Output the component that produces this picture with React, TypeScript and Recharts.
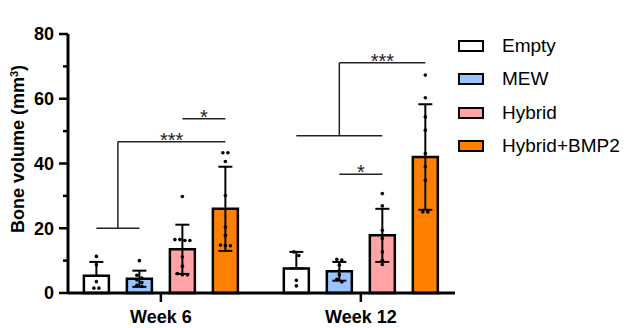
import React from 'react';
import {
  ComposedChart,
  Bar,
  Cell,
  ErrorBar,
  Scatter,
  XAxis,
  YAxis,
  ReferenceLine,
  Legend
} from 'recharts';

const weeks = ['Week 6', 'Week 12'];
const groups = ['Empty', 'MEW', 'Hybrid', 'Hybrid+BMP2'];
const groupColors = ['#ffffff', '#99c4ff', '#ffa3a6', '#ff8000'];

const meanWeek6 = [5.3, 4.4, 13.5, 26.0];
const meanWeek12 = [7.6, 6.7, 17.8, 42.0];
const sdWeek6 = [4.3, 2.5, 7.6, 13.0];
const sdWeek12 = [5.1, 2.9, 8.2, 16.3];
const lowerWhisker = [false, true, true, true];

const pointsWeek6 = [
  [11.3, 8.7, 3.5, 1.5, 1.5],
  [10.0, 5.5, 4.6, 4.0, 3.2, 2.4, 2.0],
  [29.8, 16.5, 16.2, 16.2, 16.5, 11.2, 8.3, 6.0, 5.6, 5.6],
  [43.3, 43.3, 40.6, 30.1, 20.4, 17.8, 14.8, 14.7, 14.6]
];
const pointsWeek12 = [
  [12.7, 11.6, 3.9, 2.2],
  [10.4, 10.2, 8.6, 6.8, 5.6, 4.2, 3.4],
  [30.7, 26.9, 19.4, 16.8, 12.7, 10.1, 8.8],
  [67.3, 60.3, 54.4, 50.3, 43.1, 39.0, 34.8, 25.0, 25.0]
];

const yTicks = [0, 10, 20, 30, 40, 50, 60, 70, 80];

// comparisons: from = bars joined by the lower bracket, to = compared bar
const brackets = [
  { week: 0, from: [0, 1], baseLevel: 20, to: 3, level: 46.7, stars: '***' },
  { week: 0, from: [2, 2], baseLevel: 53.8, to: 3, level: 53.8, stars: '*' },
  { week: 1, from: [0, 2], baseLevel: 48.6, to: 3, level: 71.1, stars: '***' },
  { week: 1, from: [1, 1], baseLevel: 36.7, to: 2, level: 36.7, stars: '*' }
];

const means = [meanWeek6, meanWeek12];
const sds = [sdWeek6, sdWeek12];
const points = [pointsWeek6, pointsWeek12];

const GROUP_STEP = 4.65;
const X_DOMAIN: [number, number] = [-0.66, 8.34];
const FONT = 'Liberation Sans, Arial, sans-serif';
const pos = (w: number, g: number) => w * GROUP_STEP + g;

const barData = weeks.flatMap((_, w) =>
  groups.map((name, g) => ({
    pos: pos(w, g),
    name,
    mean: means[w][g],
    err: [lowerWhisker[g] ? sds[w][g] : 0, sds[w][g]]
  }))
);

// spread dots with nearly equal values side by side
const spread = (values: number[]) => {
  const sorted = [...values].sort((a, b) => b - a);
  const out: { y: number; dx: number }[] = [];
  let i = 0;
  while (i < sorted.length) {
    let j = i;
    while (j + 1 < sorted.length && sorted[i] - sorted[j + 1] < 1.2) j++;
    const n = j - i + 1;
    for (let k = 0; k < n; k++) out.push({ y: sorted[i + k], dx: (k - (n - 1) / 2) * 5 });
    i = j + 1;
  }
  return out;
};

const dotData = weeks.flatMap((_, w) =>
  groups.flatMap((__, g) => spread(points[w][g]).map(p => ({ pos: pos(w, g), y: p.y, dx: p.dx })))
);

const YTick = ({ x, y, payload }: any) => {
  const v = payload.value;
  const major = v % 20 === 0;
  return (
    <g>
      <line x1={x - (major ? 9 : 5)} x2={x} y1={y} y2={y} stroke="#000" strokeWidth={2.5} />
      {major && (
        <text x={x - 14} y={y} dy="0.36em" textAnchor="end" fontWeight="bold" fontSize={18} fill="#000">
          {v}
        </text>
      )}
    </g>
  );
};

const XTick = ({ x, y, index }: any) => (
  <g>
    <line x1={x} x2={x} y1={y} y2={y + 9} stroke="#000" strokeWidth={2.5} />
    <text x={x} y={y + 30} textAnchor="middle" fontWeight="bold" fontSize={18} fill="#000">
      {weeks[index]}
    </text>
  </g>
);

const YLabel = () => (
  <text
    x={16}
    y={141}
    transform="rotate(-90, 16, 141)"
    textAnchor="middle"
    fontWeight="bold"
    fontSize={18}
    fill="#000"
  >
    Bone volume (mm<tspan dy={-6} fontSize={11}>3</tspan>
    <tspan dy={6}>)</tspan>
  </text>
);

const Dot = ({ cx, cy, payload }: any) => (
  <circle cx={cx + payload.dx} cy={cy} r={1.8} fill="#000" />
);

const starLabel = (stars: string) => (props: any) => {
  const vb = props.viewBox || {};
  return (
    <text x={vb.x + (vb.width || 0) / 2} y={vb.y + 5} textAnchor="middle" fontSize={20} fill="#222">
      {stars}
    </text>
  );
};

const LegendBox = () => (
  <div style={{ width: 170, fontFamily: FONT, fontSize: 19, color: '#000' }}>
    {groups.map((name, g) => (
      <div key={name} style={{ height: 33.5, display: 'flex', alignItems: 'center' }}>
        <div
          style={{
            marginLeft: 3,
            width: 26,
            height: 12,
            boxSizing: 'border-box',
            border: '2.5px solid #000',
            background: groupColors[g]
          }}
        />
        <span style={{ marginLeft: 18 }}>{name}</span>
      </div>
    ))}
  </div>
);

const bracketLines = brackets.flatMap((b, i) => {
  const a = pos(b.week, b.from[0]);
  const c = pos(b.week, b.from[1]);
  const mid = (a + c) / 2;
  const t = pos(b.week, b.to);
  const lines = [];
  if (a !== c) {
    lines.push(
      <ReferenceLine
        key={`base${i}`}
        segment={[{ x: a, y: b.baseLevel }, { x: c, y: b.baseLevel }]}
        stroke="#222"
        strokeWidth={1.5}
        ifOverflow="visible"
      />,
      <ReferenceLine
        key={`stem${i}`}
        segment={[{ x: mid, y: b.baseLevel }, { x: mid, y: b.level }]}
        stroke="#222"
        strokeWidth={1.5}
        ifOverflow="visible"
      />
    );
  }
  lines.push(
    <ReferenceLine
      key={`top${i}`}
      segment={[{ x: mid, y: b.level }, { x: t, y: b.level }]}
      stroke="#222"
      strokeWidth={1.5}
      ifOverflow="visible"
      label={starLabel(b.stars)}
    />
  );
  return lines;
});

export default function App() {
  return (
    <div style={{ position: 'relative', width: 627, height: 320 }}>
      <ComposedChart
        width={627}
        height={320}
        data={barData}
        margin={{ top: 26, right: 10, bottom: 0, left: 0 }}
        style={{ fontFamily: FONT }}
      >
        <XAxis
          dataKey="pos"
          type="number"
          domain={X_DOMAIN}
          allowDataOverflow
          ticks={weeks.map((_, w) => pos(w, 1.5))}
          interval={0}
          tick={<XTick />}
          tickSize={0}
          tickMargin={0}
          height={35}
          axisLine={{ stroke: '#000', strokeWidth: 3 }}
          tickLine={false}
        />
        <XAxis xAxisId="dots" dataKey="pos" type="number" domain={X_DOMAIN} allowDataOverflow hide />
        <YAxis
          type="number"
          domain={[0, 80]}
          ticks={yTicks}
          interval={0}
          width={60}
          tick={<YTick />}
          tickSize={0}
          tickMargin={0}
          axisLine={{ stroke: '#000', strokeWidth: 3 }}
          tickLine={false}
          label={<YLabel />}
        />
        <Legend
          layout="vertical"
          align="right"
          verticalAlign="top"
          wrapperStyle={{ top: 21 }}
          content={() => <LegendBox />}
        />
        <Bar dataKey="mean" barSize={25} stroke="#000" strokeWidth={2.5} isAnimationActive={false}>
          {barData.map((d, i) => (
            <Cell key={i} fill={groupColors[i % groups.length]} />
          ))}
          <ErrorBar dataKey="err" width={7} stroke="#000" strokeWidth={2} direction="y" isAnimationActive={false} />
        </Bar>
        <Scatter data={dotData} xAxisId="dots" dataKey="y" shape={<Dot />} isAnimationActive={false} />
        {bracketLines}
      </ComposedChart>
    </div>
  );
}
